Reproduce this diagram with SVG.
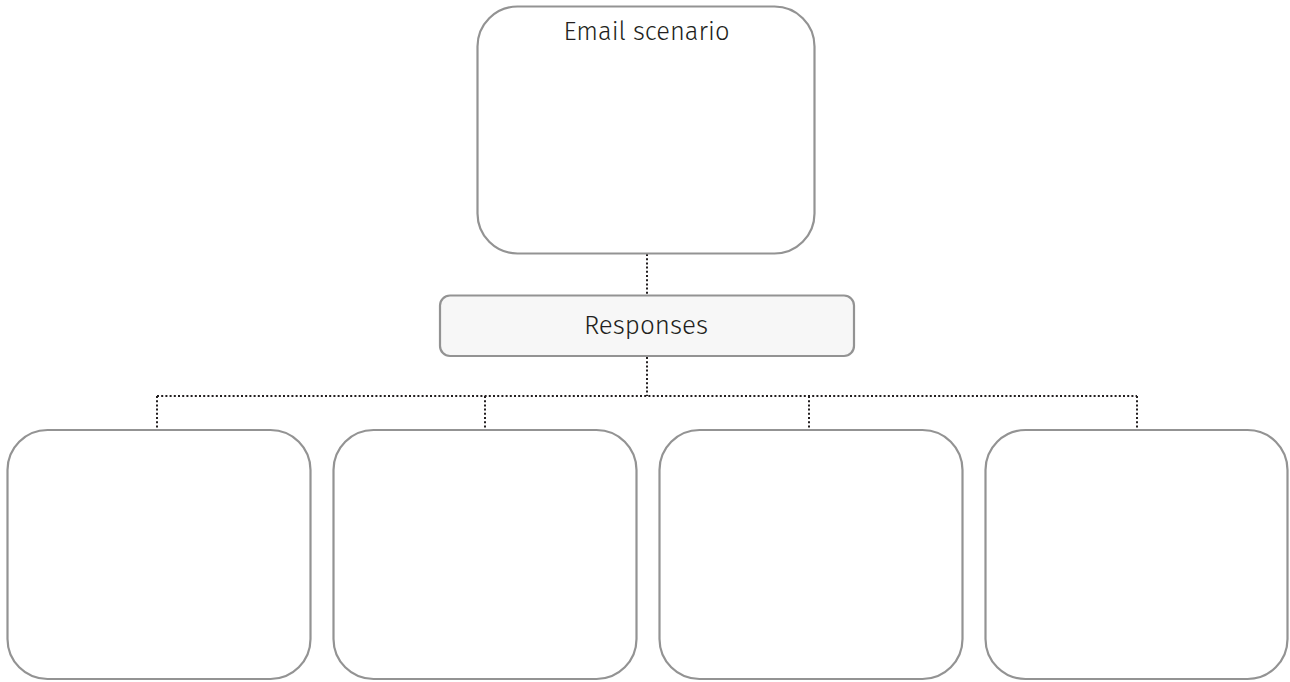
<svg xmlns="http://www.w3.org/2000/svg" width="1290" height="682" viewBox="0 0 1290 682">
<style>
.box{fill:#ffffff;stroke:#939393;stroke-width:2.2}
.resp{fill:#f7f7f7;stroke:#939393;stroke-width:2.2}
.lbl{font-family:"Fira Sans","Open Sans","Noto Sans",sans-serif;font-size:26px;font-weight:300;fill:#231f20;text-anchor:middle}
.dot{fill:none;stroke:#231f20;stroke-width:2;stroke-dasharray:2 2.2}
</style>
<rect width="1290" height="682" fill="#ffffff"/>
<g id="connectors">
<path class="dot" d="M647 254V295"/>
<path class="dot" d="M647 357V396"/>
<path class="dot" d="M157 396H1137"/>
<path class="dot" d="M157 396V429M485 396V429M809 396V429M1137 396V429"/>
</g>
<g id="email"><rect class="box" x="477.5" y="6.5" width="337" height="247" rx="40"/><text class="lbl" x="646.5" y="40" style="font-size:25.5px">Email scenario</text></g>
<g id="responses"><rect class="resp" x="440" y="295.5" width="414" height="60.5" rx="10"/><text class="lbl" x="646" y="334">Responses</text></g>
<g id="r1"><rect class="box" x="7.5" y="430" width="303" height="249" rx="40"/></g>
<g id="r2"><rect class="box" x="333.5" y="430" width="303" height="249" rx="40"/></g>
<g id="r3"><rect class="box" x="659.5" y="430" width="303" height="249" rx="40"/></g>
<g id="r4"><rect class="box" x="985.5" y="430" width="302" height="249" rx="40"/></g>
</svg>
